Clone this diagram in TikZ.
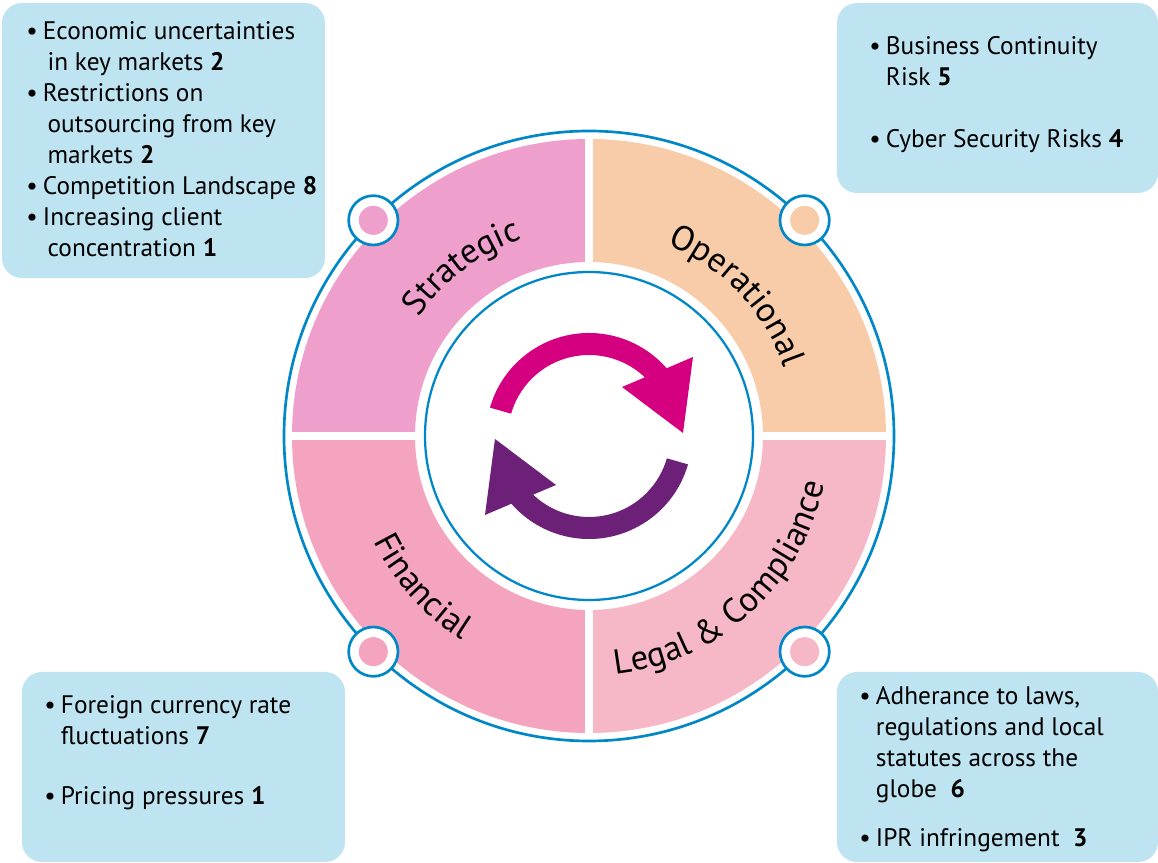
\documentclass[tikz,border=0pt]{standalone}
\usepackage{fontspec}
\setmainfont{PT Sans}
\usetikzlibrary{positioning,decorations.text}

\definecolor{ringblue}{HTML}{0087C8}
\definecolor{boxblue}{HTML}{BEE3F1}
\definecolor{stratpink}{HTML}{EF9FCC}
\definecolor{operpeach}{HTML}{F8CCA8}
\definecolor{finpink}{HTML}{F4A4BF}
\definecolor{legalpink}{HTML}{F6B8C7}
\definecolor{arrowpink}{HTML}{D5007F}
\definecolor{arrowpurple}{HTML}{6D2077}

\newcommand{\ringfont}{\fontsize{26}{30}\selectfont}
\newcommand{\bul}{\makebox[12.5pt][l]{\textbullet}}
\newcommand{\cont}{\hspace*{12.5pt}}
\newcommand{\contx}{\hspace*{16pt}}

\tikzset{
  pics/cyclearrow/.style={code={
    \path[pic actions] (164:103) arc[start angle=164, end angle=41.1, radius=103]
      -- (104,79) -- (94,3) -- (33,49) -- (46.4:81)
      arc[start angle=46.4, end angle=164, radius=81] -- cycle;
  }}
}

\begin{document}
\begin{tikzpicture}[
  x=0.75pt, y=0.75pt,
  every node/.style={font=\fontsize{19}{23.25}\selectfont},
  riskbox/.style={fill=boxblue, rounded corners=15pt, inner sep=0pt},
  risklist/.style={anchor=base west, inner sep=0pt, align=left},
  ringline/.style={draw=ringblue, line width=2pt},
  dotring/.style={circle, fill=white, draw=ringblue, line width=2pt, minimum size=37pt, inner sep=0pt},
  dotfill/.style={circle, minimum size=21.75pt, inner sep=0pt},
  ringlabel/.style={decorate, decoration={text along path, text align=center, text={|\ringfont|#1}}}
]
\useasboundingbox[fill=white] (-589,-427) rectangle (569,436);

% risk boxes
\node[riskbox, minimum width=242.25pt, minimum height=206.25pt] (stratbox) at (-425.5,295.5) {};
\node[riskbox, minimum width=240.75pt, minimum height=142.5pt] (operbox) at (408.5,338) {};
\node[riskbox, minimum width=242.25pt, minimum height=142.5pt] (finbox) at (-405.5,-331) {};
\node[riskbox, minimum width=240.75pt, minimum height=142.5pt] (legalbox) at (408.5,-331) {};

% lists, placed by the baseline of their last line
\node[risklist] (stratlist) at (-563,179) {\bul Economic uncertainties\\
  \contx in key markets \textbf{2}\\
  \bul Restrictions on\\
  \contx outsourcing from key\\
  \contx markets \textbf{2}\\
  \bul Competition Landscape \textbf{8}\\
  \bul Increasing client\\
  \contx concentration \textbf{1}};
\node[risklist] (operlist) at (280,288) {\bul Business Continuity\\
  \cont Risk \textbf{5}\\[23.25pt]
  \bul Cyber Security Risks \textbf{4}};
\node[risklist] (finlist) at (-545,-369) {\bul Foreign currency rate\\
  \cont fluctuations \textbf{7}\\[21.75pt]
  \bul Pricing pressures \textbf{1}};
\node[risklist] (legallist) at (270,-411) {\bul Adherance to laws,\\
  \cont regulations and local\\
  \cont statutes across the\\
  \cont globe\ \ \textbf{6}\\[13.5pt]
  \bul IPR infringement\ \ \textbf{3}};

% ring quadrants
\foreach \a/\c in {0/legalpink,90/operpeach,180/stratpink,270/finpink}
  \fill[\c] ({\a-90}:174) arc[start angle=\a-90, delta angle=90, radius=174]
    -- (\a:297) arc[start angle=\a, delta angle=-90, radius=297] -- cycle;
\fill[white] (-300,-4) rectangle (300,4);
\fill[white] (-4,-300) rectangle (4,300);
\draw[ringline] (0,0) circle[radius=305];
\draw[draw=ringblue, line width=1.7pt] (0,0) circle[radius=164];

% ring labels
\path[ringlabel=Strategic] (167:208) arc[start angle=167, end angle=87, radius=208];
\path[ringlabel=Operational] (83.5:207) arc[start angle=83.5, end angle=3.5, radius=207];
\path[ringlabel=Financial] (182:240) arc[start angle=182, end angle=262, radius=240];
\path[ringlabel={Legal {\&} Compliance}] (262.5:240) arc[start angle=262.5, end angle=362.5, radius=240];

% small dots on the ring
\foreach \a/\c in {45/operpeach,135/stratpink,225/finpink,315/legalpink} {
  \node[dotring] (dot\a) at (\a:305) {};
  \node[dotfill, fill=\c] (dotin\a) at (dot\a) {};
}

% cycle arrows
\pic[fill=arrowpink] (pinkarrow) at (0,0) {cyclearrow};
\pic[fill=arrowpurple, rotate=180] (purplearrow) at (0,0) {cyclearrow};
\end{tikzpicture}
\end{document}
